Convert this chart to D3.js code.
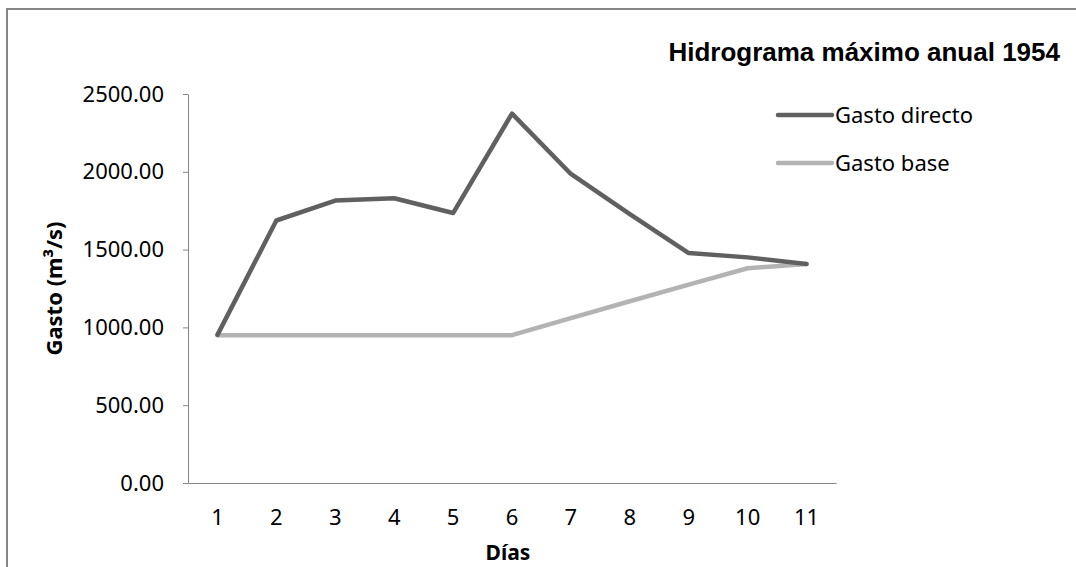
<!DOCTYPE html>
<html><head><meta charset="utf-8">
<script src="https://cdn.jsdelivr.net/npm/d3@7"></script>
<style>body{margin:0;background:#fff}svg{display:block}</style>
</head><body>
<script>
const days = ["1","2","3","4","5","6","7","8","9","10","11"];
const gastoDirecto = [952, 1687, 1815, 1830, 1735, 2374, 1986, 1728, 1478, 1450, 1408];
const gastoBase = [950, 950, 950, 950, 950, 950, 1060, 1168, 1275, 1380, 1408];
const yTicks = [0, 500, 1000, 1500, 2000, 2500];
const seriesNames = ["Gasto directo", "Gasto base"];
const colors = ["#606060", "#b3b3b3"];

(function () {
const W = 1076, H = 567;
const svg = d3.select("body").append("svg").attr("width", W).attr("height", H);
svg.append("rect").attr("x", 7).attr("y", 9).attr("width", W + 10).attr("height", H + 10)
  .attr("fill", "#fff").attr("stroke", "#868686").attr("stroke-width", 2);

const mL = 188, mR = 836, mT = 94, mB = 483;
const x = d3.scaleBand().domain(days).range([mL, mR]);
const y = d3.scaleLinear().domain([0, 2500]).range([mB, mT]);

const font = "'Noto Sans', sans-serif";
const fs = 22;
const yAxis = svg.append("g").attr("transform", `translate(${mL},0)`)
  .call(d3.axisLeft(y).tickValues(yTicks).tickFormat(d3.format(".2f")).tickSizeInner(5).tickSizeOuter(0).tickPadding(19));
yAxis.selectAll("text").attr("font-family", font).attr("font-size", fs).attr("fill", "#000");
yAxis.selectAll("line,path").attr("stroke", "#868686");

const xAxis = svg.append("g").attr("transform", `translate(0,${mB})`)
  .call(d3.axisBottom(x).tickSize(0).tickPadding(26));
xAxis.selectAll("text").attr("font-family", font).attr("font-size", fs).attr("fill", "#000");
xAxis.selectAll("path").attr("stroke", "#868686");

const line = d3.line().x((d, i) => x(days[i]) + x.bandwidth() / 2).y(d => y(d));
[gastoBase, gastoDirecto].forEach((s, k) => {
  const c = k === 0 ? colors[1] : colors[0];
  svg.append("path").attr("d", line(s)).attr("fill", "none").attr("stroke", c)
    .attr("stroke-width", 4.5).attr("stroke-linejoin", "round").attr("stroke-linecap", "round");
});

seriesNames.forEach((n, i) => {
  const ly = 115 + i * 48;
  svg.append("line").attr("x1", 778).attr("x2", 832).attr("y1", ly).attr("y2", ly)
    .attr("stroke", colors[i]).attr("stroke-width", 4.5).attr("stroke-linecap", "round");
  svg.append("text").attr("x", 835).attr("y", ly).attr("dy", "0.35em").text(n)
    .attr("font-family", font).attr("font-size", fs).attr("fill", "#000");
});

svg.append("text").attr("x", 1060).attr("y", 61).attr("text-anchor", "end")
  .text("Hidrograma máximo anual 1954")
  .attr("font-family", "'Liberation Sans', Arial, sans-serif").attr("font-weight", "bold").attr("font-size", 26);

svg.append("text").attr("transform", `translate(62,${(mT + mB) / 2}) rotate(-90)`)
  .attr("text-anchor", "middle").text("Gasto (m³/s)")
  .attr("font-family", font).attr("font-weight", "bold").attr("font-size", 22);

svg.append("text").attr("x", 508).attr("y", 560).attr("text-anchor", "middle")
  .text("Días").attr("font-family", font).attr("font-weight", "bold").attr("font-size", 21);
})();
</script>
</body></html>
